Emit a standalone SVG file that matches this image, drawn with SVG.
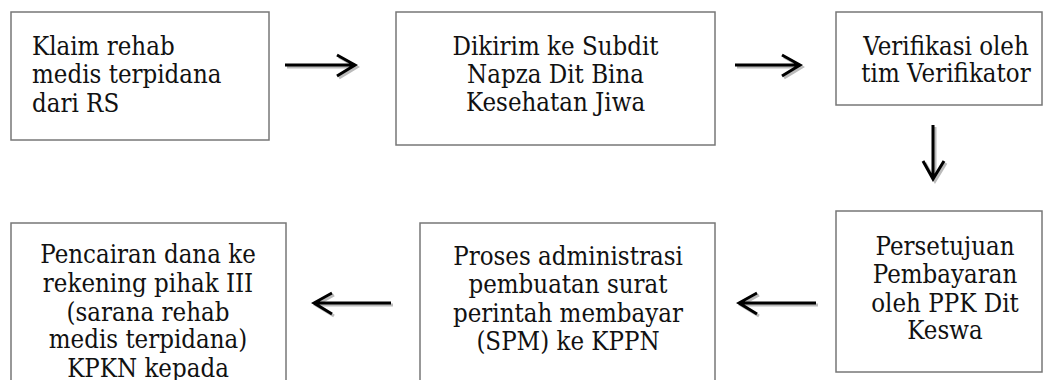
<svg xmlns="http://www.w3.org/2000/svg" width="1043" height="380" viewBox="0 0 1043 380">
<style>
.box{fill:#fff;stroke:#777;stroke-width:1.5}
.t{font-family:"DejaVu Serif","Liberation Serif",serif;font-size:26px;fill:#111}
.c{text-anchor:middle}
.ar{fill:none;stroke:#000;stroke-width:3}
.sh{fill:none;stroke:#bbb;stroke-width:3}
</style>
<rect width="1043" height="380" fill="#fff"/>
<g id="n1"><rect class="box" x="11" y="12" width="258" height="128"/>
<text class="t" transform="translate(32,55) scale(0.885,1)">Klaim rehab</text><text class="t" transform="translate(32,83) scale(0.885,1)">medis terpidana</text><text class="t" transform="translate(32,112) scale(0.885,1)">dari RS</text></g>
<g id="n2"><rect class="box" x="396" y="12" width="319" height="133"/>
<text class="t c" transform="translate(555.5,55) scale(0.885,1)">Dikirim ke Subdit</text><text class="t c" transform="translate(555.5,83) scale(0.885,1)">Napza Dit Bina</text><text class="t c" transform="translate(555.5,111) scale(0.885,1)">Kesehatan Jiwa</text></g>
<g id="n3"><rect class="box" x="836" y="12" width="206" height="93"/>
<text class="t c" transform="translate(946,55) scale(0.885,1)">Verifikasi oleh</text><text class="t c" transform="translate(946,82) scale(0.885,1)">tim Verifikator</text></g>
<g id="n4"><rect class="box" x="836" y="211" width="206" height="161"/>
<text class="t c" transform="translate(945,255) scale(0.885,1)">Persetujuan</text><text class="t c" transform="translate(945,283) scale(0.885,1)">Pembayaran</text><text class="t c" transform="translate(945,312) scale(0.885,1)">oleh PPK Dit</text><text class="t c" transform="translate(945,339) scale(0.885,1)">Keswa</text></g>
<g id="n5"><rect class="box" x="420" y="223" width="295" height="170"/>
<text class="t c" transform="translate(568,265) scale(0.885,1)">Proses administrasi</text><text class="t c" transform="translate(568,293) scale(0.885,1)">pembuatan surat</text><text class="t c" transform="translate(568,322) scale(0.885,1)">perintah membayar</text><text class="t c" transform="translate(568,350) scale(0.885,1)">(SPM) ke KPPN</text></g>
<g id="n6"><rect class="box" x="11" y="223" width="275" height="170"/>
<text class="t c" transform="translate(148,263) scale(0.885,1)">Pencairan dana ke</text><text class="t c" transform="translate(148,292) scale(0.885,1)">rekening pihak III</text><text class="t c" transform="translate(148,321) scale(0.885,1)">(sarana rehab</text><text class="t c" transform="translate(148,348) scale(0.885,1)">medis terpidana)</text><text class="t c" transform="translate(148,377) scale(0.885,1)">KPKN kepada</text></g>
<g id="connectors">
<g transform="translate(2,2)">
<path class="sh" d="M285 65H354M337 55L355 65L337 76"/>
<path class="sh" d="M735 65H800M782 55L800 65L782 76"/>
<path class="sh" d="M933 125V178M923 161L933 179L944 161"/>
<path class="sh" d="M816 303H740M757 293L739 303L757 314"/>
<path class="sh" d="M391 303H315M332 293L314 303L332 314"/>
</g>
<path class="ar" d="M285 65H354M337 55L355 65L337 76"/>
<path class="ar" d="M735 65H800M782 55L800 65L782 76"/>
<path class="ar" d="M933 125V178M923 161L933 179L944 161"/>
<path class="ar" d="M816 303H740M757 293L739 303L757 314"/>
<path class="ar" d="M391 303H315M332 293L314 303L332 314"/>
</g>
</svg>
